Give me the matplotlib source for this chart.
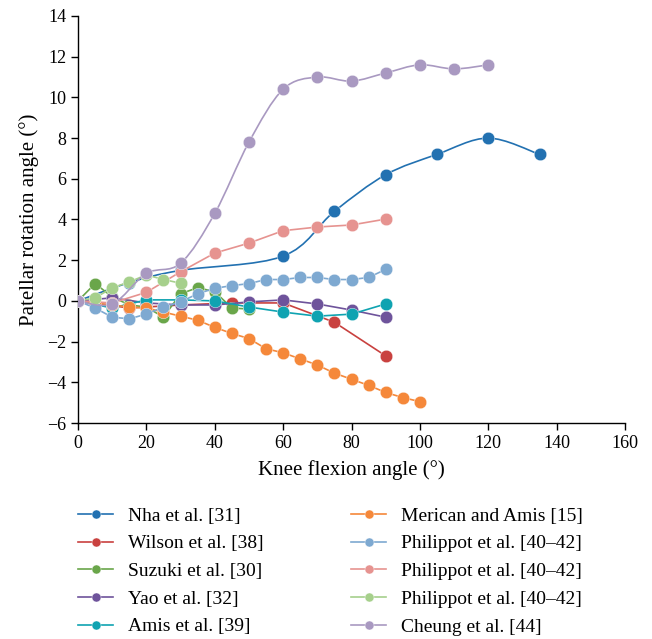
import matplotlib
matplotlib.use("Agg")
import matplotlib.pyplot as plt
import numpy as np
from matplotlib.path import Path
from matplotlib.patches import PathPatch
from matplotlib.lines import Line2D

plt.rcParams['font.family'] = ['Liberation Serif', 'DejaVu Serif']

# ---- data ----
nha_x = [0, 15, 30, 60, 75, 90, 105, 120, 135]
nha_y = [0, 0.9, 1.5, 2.2, 4.4, 6.2, 7.2, 8.0, 7.2]

wilson_x = [0, 15, 30, 45, 60, 75, 90]
wilson_y = [0, -0.35, -0.2, -0.1, -0.1, -1.05, -2.7]

suzuki_x = [0, 5, 10, 15, 20, 25, 30, 35, 40, 45, 50]
suzuki_y = [0, 0.85, 0.2, -0.2, -0.3, -0.8, 0.35, 0.65, 0.45, -0.35, -0.4]

yao_x = [0, 10, 20, 30, 40, 50, 60, 70, 80, 90]
yao_y = [0, 0.15, -0.1, -0.2, -0.2, -0.05, 0.05, -0.15, -0.45, -0.8]

amis_x = [0, 10, 20, 30, 40, 50, 60, 70, 80, 90]
amis_y = [0, -0.35, 0.05, 0.05, 0.0, -0.3, -0.55, -0.75, -0.65, -0.15]

merican_x = [0, 5, 10, 15, 20, 25, 30, 35, 40, 45, 50, 55, 60, 65, 70, 75, 80, 85, 90, 95, 100]
merican_y = [0, -0.1, -0.2, -0.3, -0.35, -0.55, -0.75, -0.95, -1.3, -1.6, -1.85, -2.35, -2.55, -2.85,
             -3.15, -3.55, -3.85, -4.15, -4.5, -4.75, -4.95]

phil1_x = [0, 5, 10, 15, 20, 25, 30, 35, 40, 45, 50, 55, 60, 65, 70, 75, 80, 85, 90]
phil1_y = [0, -0.35, -0.8, -0.88, -0.65, -0.3, -0.05, 0.35, 0.62, 0.75, 0.85, 1.05, 1.05, 1.15,
           1.15, 1.05, 1.05, 1.15, 1.55]

phil2_x = [0, 10, 20, 30, 40, 50, 60, 70, 80, 90]
phil2_y = [0, -0.1, 0.42, 1.43, 2.35, 2.84, 3.45, 3.63, 3.73, 4.02]

phil3_x = [0, 5, 10, 15, 20, 25, 30]
phil3_y = [0, 0.15, 0.64, 0.93, 1.28, 1.05, 0.87]

cheung_x = [0, 10, 20, 30, 40, 50, 60, 70, 80, 90, 100, 110, 120]
cheung_y = [0, -0.15, 1.35, 1.85, 4.3, 7.8, 10.4, 11.0, 10.8, 11.2, 11.6, 11.4, 11.6]

series = [
    ("Nha et al. [31]", nha_x, nha_y, "#2271b1", True),
    ("Wilson et al. [38]", wilson_x, wilson_y, "#c9413f", False),
    ("Suzuki et al. [30]", suzuki_x, suzuki_y, "#6aa64a", False),
    ("Yao et al. [32]", yao_x, yao_y, "#6e539b", False),
    ("Amis et al. [39]", amis_x, amis_y, "#0fa3b1", False),
    ("Merican and Amis [15]", merican_x, merican_y, "#f5883a", False),
    ("Philippot et al. [40\u201342]", phil1_x, phil1_y, "#7ea9d1", False),
    ("Philippot et al. [40\u201342]", phil2_x, phil2_y, "#e69390", False),
    ("Philippot et al. [40\u201342]", phil3_x, phil3_y, "#a6d08c", False),
    ("Cheung et al. [44]", cheung_x, cheung_y, "#a999c1", True),
]


def smooth_path(x, y):
    pts = np.column_stack([x, y]).astype(float)
    n = len(pts)
    verts = [pts[0]]
    codes = [Path.MOVETO]
    for i in range(n - 1):
        p0 = pts[i - 1] if i > 0 else pts[i]
        p1 = pts[i]
        p2 = pts[i + 1]
        p3 = pts[i + 2] if i + 2 < n else pts[i + 1]
        c1 = p1 + (p2 - p0) / 6.0
        c2 = p2 - (p3 - p1) / 6.0
        verts += [c1, c2, p2]
        codes += [Path.CURVE4] * 3
    return Path(verts, codes)


fig = plt.figure(figsize=(6.52, 6.39), dpi=100)
ax = fig.add_axes([78 / 652, 1 - 423 / 639, (625 - 78) / 652, (423 - 16) / 639])

handles = []
for i, (lab, xs, ys, col, smooth) in enumerate(series):
    z = 2 + i * 0.1
    if smooth:
        patch = PathPatch(smooth_path(xs, ys), facecolor='none', edgecolor=col, lw=1.2, zorder=z)
        ax.add_patch(patch)
        ax.plot(xs, ys, ls='none', marker='o', ms=9, color=col, mec='white', mew=0.3, zorder=z)
    else:
        ax.plot(xs, ys, ls='-', lw=1.2, marker='o', ms=9, color=col, mec='white', mew=0.3, zorder=z)
    handles.append(Line2D([0], [0], color=col, lw=1.2, marker='o', ms=6.5, mec='white', mew=0.3, label=lab))

ax.set_xlim(0, 160)
ax.set_ylim(-6, 14)
ax.set_xticks(np.arange(0, 161, 20))
ax.set_yticks(np.arange(-6, 15, 2))
ax.set_yticklabels([str(v).replace('-', '\u2212') for v in range(-6, 15, 2)])
for s in ['top', 'right']:
    ax.spines[s].set_visible(False)
for s in ['left', 'bottom']:
    ax.spines[s].set_linewidth(1.0)
    ax.spines[s].set_color('black')
ax.tick_params(axis='both', direction='out', length=5, width=1.0, labelsize=13, colors='black')
ax.set_xlabel("Knee flexion angle (\u00b0)", fontsize=15, labelpad=6)
ax.set_ylabel("Patellar rotation angle (\u00b0)", fontsize=15, labelpad=6)

leg_kw = dict(frameon=False, fontsize=14, handlelength=1.8, handletextpad=0.75,
              labelspacing=0.52, borderpad=0, borderaxespad=0, loc='upper left')
l1 = fig.legend(handles=handles[:5], bbox_to_anchor=(78 / 652, 1 - 507 / 639), **leg_kw)
l2 = fig.legend(handles=handles[5:], bbox_to_anchor=(351 / 652, 1 - 507 / 639), **leg_kw)

fig.savefig("out.png", dpi=100)
